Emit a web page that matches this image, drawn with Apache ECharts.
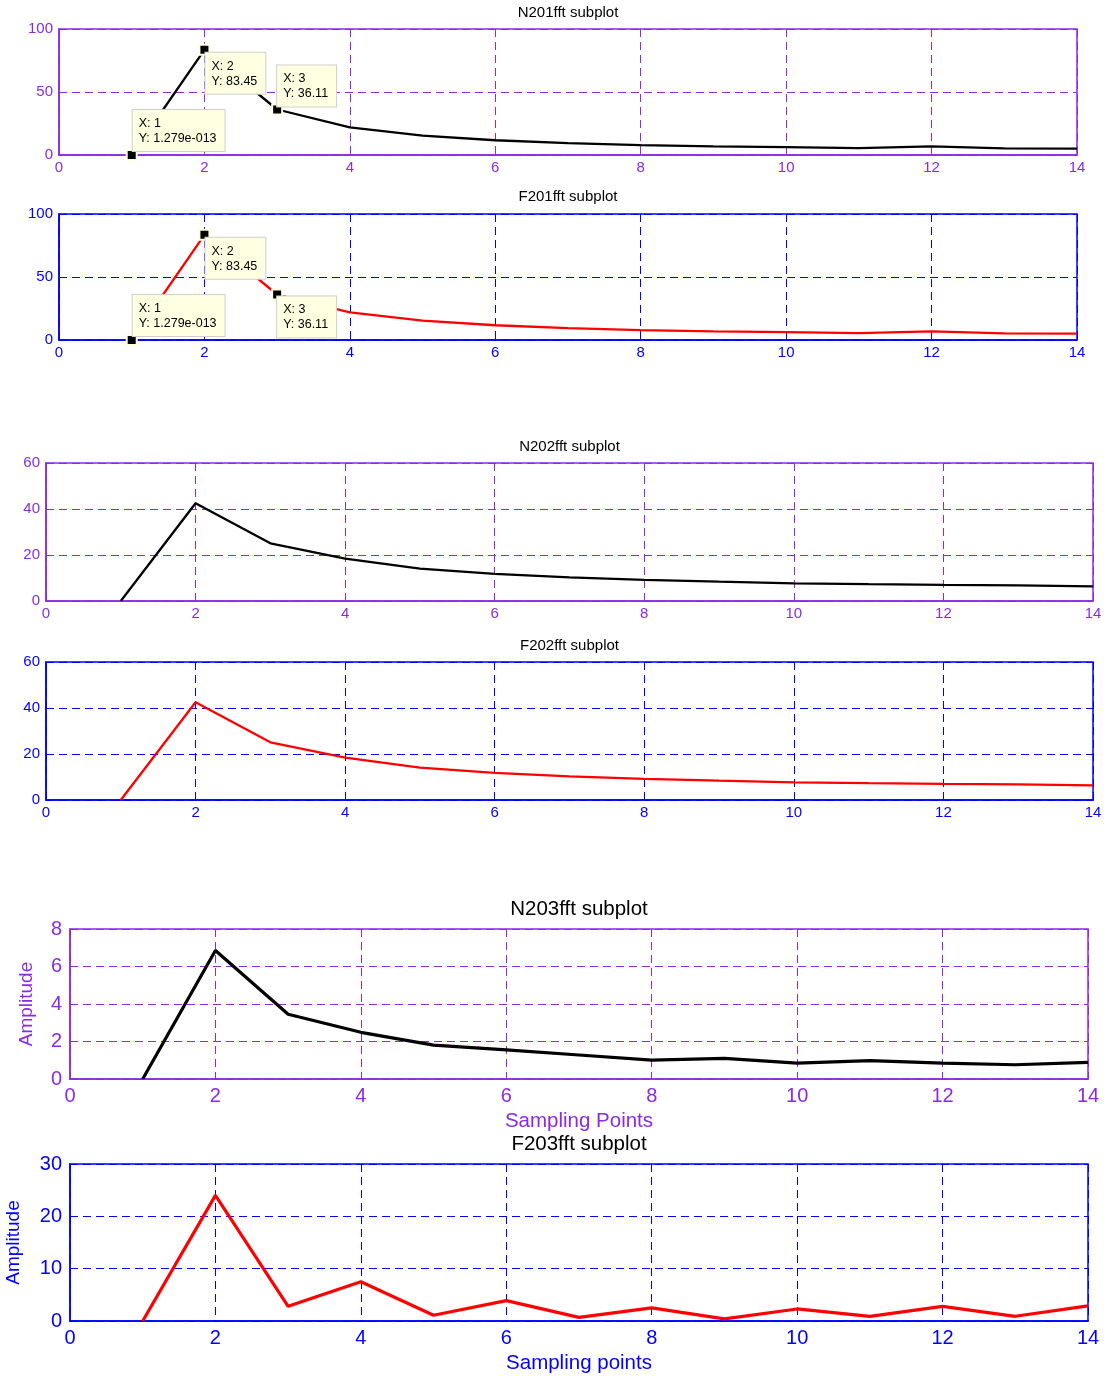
<!DOCTYPE html>
<html>
<head>
<meta charset="utf-8">
<title>FFT subplots</title>
<script src="https://cdn.jsdelivr.net/npm/echarts@6/dist/echarts.min.js"></script>
<style>
  html, body { margin: 0; padding: 0; background: #ffffff; }
  #chart { width: 1109px; height: 1376px; }
</style>
</head>
<body>
<div id="chart"></div>
<script>
// Sampling points shared by every subplot
const samplePoints = [1, 2, 3, 4, 5, 6, 7, 8, 9, 10, 11, 12, 13, 14];

// FFT amplitudes per channel
const n201fft = [1.279e-13, 83.45, 36.11, 22.0, 15.4, 11.7, 9.5, 7.8, 6.9, 6.2, 5.4, 6.8, 5.2, 5.1];
const f201fft = [1.279e-13, 83.45, 36.11, 22.0, 15.4, 11.7, 9.5, 7.8, 6.9, 6.2, 5.4, 6.8, 5.2, 5.1];
const n202fft = [0, 42.5, 25.1, 18.4, 14.1, 11.8, 10.3, 9.2, 8.4, 7.7, 7.3, 7.0, 6.8, 6.4];
const f202fft = [0, 42.5, 25.1, 18.4, 14.1, 11.8, 10.3, 9.2, 8.4, 7.7, 7.3, 7.0, 6.8, 6.4];
const n203fft = [0, 6.85, 3.45, 2.49, 1.81, 1.55, 1.28, 1.01, 1.1, 0.85, 0.98, 0.85, 0.76, 0.89];
const f203fft = [0, 24.0, 2.8, 7.5, 1.1, 3.9, 0.7, 2.5, 0.4, 2.3, 0.9, 2.8, 0.9, 2.9];

// Axis ticks
const xTicks = [0, 14, 2];        // min, max, interval
const yTicks201 = [0, 100, 50];
const yTicks202 = [0, 60, 20];
const yTicksN203 = [0, 8, 2];
const yTicksF203 = [0, 30, 10];

// Indices marked with data tips on the 201 subplots
const tipIndices = [0, 1, 2];

const PURPLE = '#8a2be2';
const BLUE = '#0000ff';

// Panel layout and styling
const panels = [
  { title: 'N201fft subplot', values: n201fft, yt: yTicks201, color: PURPLE, line: '#000000',
    box: [59, 29, 1018, 126], titleTop: 5, fs: 15, tfs: 15, lw: 2.3,
    tips: [{ pos: [7, 2], va: 'bottom' }, { pos: [7, 9], va: 'top' }, { pos: [6, 3], va: 'bottom' }] },
  { title: 'F201fft subplot', values: f201fft, yt: yTicks201, color: BLUE, line: '#ff0000',
    box: [59, 214, 1018, 126], titleTop: 189, fs: 15, tfs: 15, lw: 2.3,
    tips: [{ pos: [7, 2], va: 'bottom' }, { pos: [7, 9], va: 'top' }, { pos: [6, 8], va: 'top' }] },
  { title: 'N202fft subplot', values: n202fft, yt: yTicks202, color: PURPLE, line: '#000000',
    box: [46, 463, 1047, 138], titleTop: 439, fs: 15, tfs: 15, lw: 2.3 },
  { title: 'F202fft subplot', values: f202fft, yt: yTicks202, color: BLUE, line: '#ff0000',
    box: [46, 662, 1047, 138], titleTop: 638, fs: 15, tfs: 15, lw: 2.3 },
  { title: 'N203fft subplot', values: n203fft, yt: yTicksN203, color: PURPLE, line: '#000000',
    box: [70, 929, 1018, 150], titleTop: 899, fs: 20, tfs: 20.5, lw: 3.2,
    yName: 'Amplitude', yGap: 34, xName: 'Sampling Points' },
  { title: 'F203fft subplot', values: f203fft, yt: yTicksF203, color: BLUE, line: '#ff0000',
    box: [70, 1164, 1018, 157], titleTop: 1134, fs: 20, tfs: 20.5, lw: 3.2,
    yName: 'Amplitude', yGap: 47, xName: 'Sampling points' }
];

// MATLAB-style data tip number text
function tipNumber(v) {
  if (v !== 0 && Math.abs(v) < 1e-3) {
    const s = v.toExponential(3);
    return s.replace(/e([+-])(\d+)$/, (m, sg, d) => 'e' + sg + d.padStart(3, '0'));
  }
  return String(Math.round(v * 100) / 100);
}

function dashedGrid(color) {
  return { show: true, lineStyle: { color: color, type: [8, 5], width: 1 } };
}

const FONT = '"Liberation Sans", Arial, Helvetica, sans-serif';
const option = {
  animation: false,
  backgroundColor: '#ffffff',
  title: [], grid: [], xAxis: [], yAxis: [], series: []
};

panels.forEach((p, i) => {
  const [l, t, w, h] = p.box;
  option.title.push({
    text: p.title,
    left: l + w / 2,
    textAlign: 'center',
    top: p.titleTop,
    padding: 0,
    textStyle: { fontFamily: FONT, fontSize: p.tfs, fontWeight: 'normal', color: '#000000' }
  });
  option.grid.push({
    left: l, top: t, width: w, height: h,
    show: true, borderColor: p.color, borderWidth: 1.5, backgroundColor: 'transparent',
    containLabel: false, outerBoundsMode: 'none'
  });
  option.xAxis.push({
    type: 'value', gridIndex: i,
    min: xTicks[0], max: xTicks[1], interval: xTicks[2],
    axisLine: { show: true, onZero: false, lineStyle: { color: p.color, width: 1.5 } },
    axisTick: { show: false },
    axisLabel: { color: p.color, fontSize: p.fs, fontFamily: FONT, margin: p.fs > 16 ? 7 : 5 },
    splitLine: dashedGrid(p.color),
    name: p.xName || '', nameLocation: 'middle', nameGap: 32,
    nameTextStyle: { color: p.color, fontSize: p.tfs, fontFamily: FONT }
  });
  option.yAxis.push({
    type: 'value', gridIndex: i,
    min: p.yt[0], max: p.yt[1], interval: p.yt[2],
    axisLine: { show: true, onZero: false, lineStyle: { color: p.color, width: 1.5 } },
    axisTick: { show: false },
    axisLabel: { color: p.color, fontSize: p.fs, fontFamily: FONT, margin: p.fs > 16 ? 8 : 6 },
    splitLine: dashedGrid(p.color),
    name: p.yName || '', nameLocation: 'middle', nameGap: p.yGap || 30, nameRotate: 90,
    nameTextStyle: { color: p.color, fontSize: p.tfs - 1.5, fontFamily: FONT }
  });
  option.series.push({
    type: 'line', xAxisIndex: i, yAxisIndex: i,
    data: samplePoints.map((x, k) => [x, p.values[k]]),
    showSymbol: false, symbol: 'none',
    lineStyle: { color: p.line, width: p.lw },
    z: 2
  });
  if (p.tips) {
    option.series.push({
      type: 'scatter', xAxisIndex: i, yAxisIndex: i,
      clip: false, z: 5,
      symbol: 'rect', symbolSize: 10,
      itemStyle: { color: '#000000', borderColor: '#ffffe0', borderWidth: 2, opacity: 1 },
      data: tipIndices.map((k, j) => ({
        value: [samplePoints[k], p.values[k]],
        label: { position: p.tips[j].pos, align: 'left', verticalAlign: p.tips[j].va }
      })),
      label: {
        show: true, opacity: 1,
        formatter: (d) => 'X: ' + d.value[0] + '\nY: ' + tipNumber(d.value[1]),
        fontFamily: FONT, fontSize: 12.5, lineHeight: 15, color: '#000000',
        backgroundColor: '#ffffe1', borderColor: '#cfcfcf', borderWidth: 1,
        padding: [6, 8, 5, 6]
      }
    });
  }
});

const chart = echarts.init(document.getElementById('chart'), null, { renderer: 'canvas' });
chart.setOption(option);
</script>
</body>
</html>
